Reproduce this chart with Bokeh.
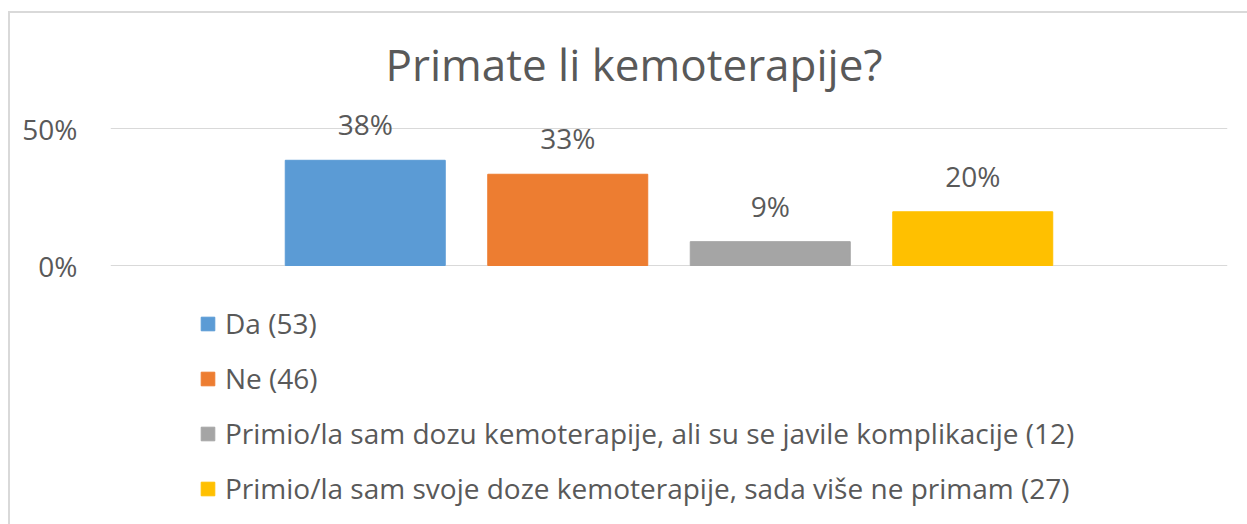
from bokeh.plotting import figure
from bokeh.models import ColumnDataSource, FixedTicker, NumeralTickFormatter, Label
from bokeh.core.properties import value
from bokeh.embed import file_html
from bokeh.resources import INLINE

# ---- data ----
labels = ["Da (53)", "Ne (46)",
          "Primio/la sam dozu kemoterapije, ali su se javile komplikacije (12)",
          "Primio/la sam svoje doze kemoterapije, sada više ne primam (27)"]
shares = [0.384, 0.333, 0.087, 0.196]
share_text = ["38%", "33%", "9%", "20%"]
colors = ["#5B9BD5", "#ED7D31", "#A5A5A5", "#FFC000"]
positions = [0, 1, 2, 3]
y_ticks = [0, 0.5]
title_text = "Primate li kemoterapije?"

FONT = "Open Sans"
TXT = "#595959"

src = ColumnDataSource(dict(x=positions, y=shares, label=labels, color=colors, txt=share_text))

p = figure(output_backend="svg", toolbar_location=None,
           frame_width=1117, frame_height=511,
           min_border_left=100, min_border_right=20,
           min_border_top=0, min_border_bottom=0,
           x_range=(-1.258, 4.258), y_range=(-0.945255, 0.919708),
           background_fill_color="white", border_fill_color="white")
p.outline_line_color = None
p.styles = {"margin-left": "8px", "margin-top": "11px",
            "border-left": "2px solid #D9D9D9", "border-top": "2px solid #D9D9D9"}

p.vbar(x="x", top="y", bottom=0, width=0.79, color="color", source=src, legend_field="label")
p.text(x="x", y="y", text="txt", source=src, text_align="center", text_baseline="bottom",
       y_offset=-17, text_font=value(FONT), text_font_size="28px", text_color=TXT)

p.xaxis.visible = False
p.xgrid.visible = False
p.yaxis.ticker = FixedTicker(ticks=y_ticks)
p.ygrid.ticker = FixedTicker(ticks=y_ticks)
p.ygrid.grid_line_color = "#D9D9D9"
p.ygrid.grid_line_width = 1
p.yaxis.formatter = NumeralTickFormatter(format="0%")
p.yaxis.axis_line_color = None
p.yaxis.major_tick_line_color = None
p.yaxis.minor_tick_line_color = None
p.yaxis.major_label_standoff = 27
p.yaxis.major_label_text_font = FONT
p.yaxis.major_label_text_font_size = "28px"
p.yaxis.major_label_text_color = TXT

title = Label(x=275, y=0.7336, x_units="screen", y_units="data", text=title_text,
              text_font=FONT, text_font_size="44px", text_color=TXT,
              text_align="left", text_baseline="alphabetic")
p.add_layout(title)

p.legend.location = (89, 17)
p.legend.orientation = "vertical"
p.legend.glyph_width = 17
p.legend.glyph_height = 17
p.legend.label_standoff = 9
p.legend.label_text_font = FONT
p.legend.label_text_font_size = "28px"
p.legend.label_text_color = TXT
p.legend.label_height = 38
p.legend.spacing = 17
p.legend.padding = 0
p.legend.margin = 0
p.legend.border_line_color = None
p.legend.background_fill_alpha = 0

open("out.html", "w").write(file_html(p, INLINE))
